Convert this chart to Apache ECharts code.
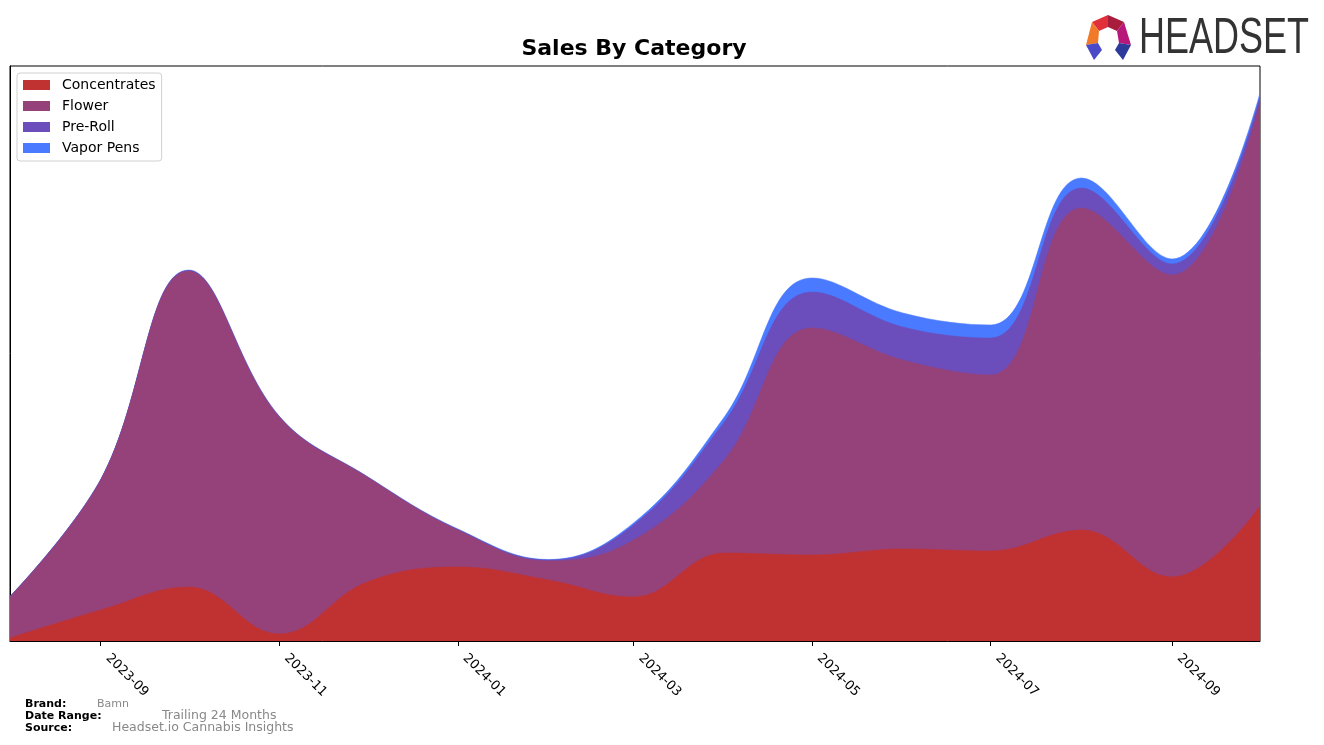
<!DOCTYPE html>
<html>
<head>
<meta charset="utf-8">
<script src="https://cdn.jsdelivr.net/npm/echarts@6/dist/echarts.min.js"></script>
<style>
html,body{margin:0;padding:0;background:#fff;}
#chart{width:1324px;height:745px;}
</style>
</head>
<body>
<div id="chart"></div>
<script>
// ---- data ----
const months = ['2023-08-01','2023-09-01','2023-10-01','2023-11-01','2023-12-01','2024-01-01','2024-02-01','2024-03-01','2024-04-01','2024-05-01','2024-06-01','2024-07-01','2024-08-01','2024-09-01','2024-10-01'];
const concentrates = [3, 31, 54, 7, 59, 74, 61, 44, 88, 86, 92, 90, 111, 64, 135];
const flower       = [41, 130, 316, 217, 105, 37, 19, 57, 93, 227, 189, 176, 322, 302, 404];
const preRoll      = [0.3, 0.4, 0.5, 0.4, 0.3, 0.5, 1, 15, 38, 36, 33, 37, 20, 11, 5];
const vaporPens    = [0.3, 0.4, 0.5, 0.4, 0.3, 0.5, 0.5, 2, 5, 14, 14, 13, 10, 5, 4];
const tickLabels = ['2023-09','2023-11','2024-01','2024-03','2024-05','2024-07','2024-09'];
const seriesNames = ['Concentrates','Flower','Pre-Roll','Vapor Pens'];
const colors = ['#C03232','#95417A','#6B4EBC','#4A7AFF'];

function ts(s){ const p = s.split('-').map(Number); return new Date(p[0], p[1]-1, p[2]||1).getTime(); }
const tickValues = tickLabels.map(ts);
const allSeries = [concentrates, flower, preRoll, vaporPens];

// cumulative stack (built from the arrays above)
const cumulative = [];
allSeries.forEach(function(vals, i){
  cumulative.push(vals.map(function(v, j){ return v + (i > 0 ? cumulative[i-1][j] : 0); }));
});

const chart = echarts.init(document.getElementById('chart'), null, {renderer:'canvas'});
const option = {
  animation: false,
  backgroundColor: '#fff',
  color: colors,
  grid: {left: 10, right: 64, top: 66, bottom: 104, show: true, borderColor: '#000', borderWidth: 1, containLabel: false},
  legend: {
    orient: 'vertical', left: 17, top: 73,
    itemWidth: 27, itemHeight: 10, itemGap: 7,
    icon: 'rect',
    padding: [5, 6, 6, 6],
    borderColor: '#d0d0d0', borderWidth: 1, borderRadius: 3,
    backgroundColor: '#fff',
    textStyle: {fontFamily: 'DejaVu Sans', fontSize: 14, color: '#000', lineHeight: 14, padding: [0, 0, 0, 7]},
    data: seriesNames
  },
  xAxis: {
    type: 'value',
    min: ts(months[0]), max: ts(months[months.length-1]),
    axisLine: {show: true, onZero: false, lineStyle: {color: '#000', width: 1}},
    axisTick: {show: true, length: 5, lineStyle: {color: '#000'}, customValues: tickValues},
    axisLabel: {
      customValues: tickValues, rotate: -45, margin: 8, padding: [0, 0, 0, 10],
      fontFamily: 'DejaVu Sans', fontSize: 13, color: '#000',
      formatter: function(v){ const d = new Date(v); return d.getFullYear() + '-' + String(d.getMonth()+1).padStart(2,'0'); }
    },
    splitLine: {show: false}
  },
  yAxis: {
    type: 'value', min: 0, max: 575,
    axisLine: {show: true, lineStyle: {color: '#000'}},
    axisTick: {show: false}, axisLabel: {show: false}, splitLine: {show: false}
  },
  graphic: [
    {type: 'text', x: 634, y: 38, style: {text: 'Sales By Category', font: 'bold 22px "DejaVu Sans"', fill: '#000', textAlign: 'center'}},
    {type: 'text', x: 25, y: 699, style: {text: 'Brand:', font: 'bold 11px "DejaVu Sans"', fill: '#000'}},
    {type: 'text', x: 25, y: 711, style: {text: 'Date Range:', font: 'bold 11px "DejaVu Sans"', fill: '#000'}},
    {type: 'text', x: 25, y: 723, style: {text: 'Source:', font: 'bold 11px "DejaVu Sans"', fill: '#000'}},
    {type: 'text', x: 97, y: 699, style: {text: 'Bamn', font: '11px "DejaVu Sans"', fill: '#888'}},
    {type: 'text', x: 162, y: 709, style: {text: 'Trailing 24 Months', font: '12.5px "DejaVu Sans"', fill: '#888'}},
    {type: 'text', x: 112, y: 721, style: {text: 'Headset.io Cannabis Insights', font: '12.5px "DejaVu Sans"', fill: '#888'}},
    // logo
    {type: 'polygon', shape: {points: [[1092,22],[1108,15],[1108,27],[1099,31]]}, style: {fill: '#E0303A'}},
    {type: 'polygon', shape: {points: [[1108,15],[1124,22],[1117,31],[1108,27]]}, style: {fill: '#A81C3C'}},
    {type: 'polygon', shape: {points: [[1092,22],[1099,31],[1098,43],[1086,45]]}, style: {fill: '#F07A2A'}},
    {type: 'polygon', shape: {points: [[1124,22],[1131,45],[1119,43],[1117,31]]}, style: {fill: '#B8187A'}},
    {type: 'polygon', shape: {points: [[1086,45],[1098,43],[1102,50],[1094,60]]}, style: {fill: '#4A4AC8'}},
    {type: 'polygon', shape: {points: [[1131,45],[1119,43],[1115,50],[1123,60]]}, style: {fill: '#2E3A9A'}},
    {type: 'text', x: 1139, y: 14, scaleX: 0.72, style: {text: 'HEADSET', font: '50px "Liberation Sans"', fill: '#333'}}
  ],
  series: cumulative.map(function(vals, i){
    return {
      name: seriesNames[i], type: 'line', smooth: 0.4, z: 10 - i,
      showSymbol: false, symbol: 'none',
      lineStyle: {width: 0.6, color: colors[i], opacity: 0.9},
      areaStyle: {color: colors[i], opacity: 1},
      itemStyle: {color: colors[i]},
      data: months.map(function(m, j){ return [ts(m), vals[j]]; })
    };
  })
};
chart.setOption(option);
</script>
</body>
</html>
